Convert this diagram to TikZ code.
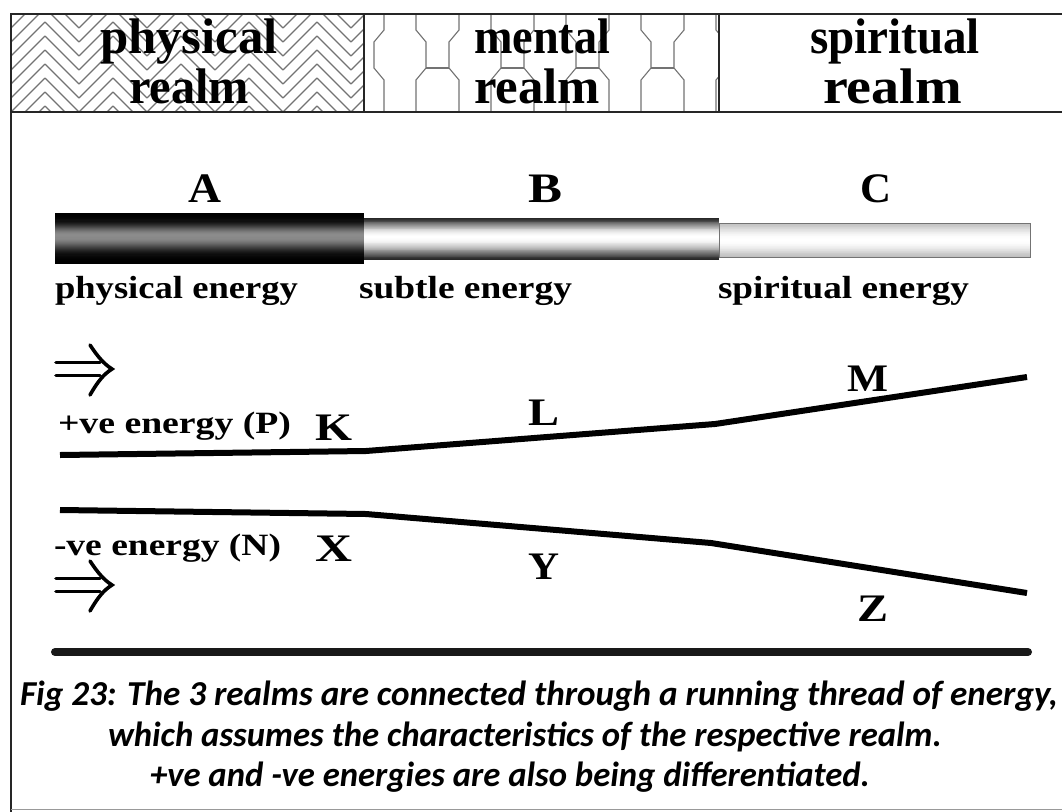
\documentclass[tikz,border=0pt]{standalone}
\usepackage{fontspec}
\usepackage{graphicx}
\setmainfont{Liberation Serif}
\newfontfamily\capfont{Carlito}
\newcommand\fitw[2]{\resizebox{#1}{\height}{#2}}
\newcommand\cylbar[8]{% x1,y1,x2,y2,edge,center,peak position (0..1),exponent
  \foreach \k in {0,...,47} {
    \pgfmathsetmacro\ta{#2+(#4-#2)*\k/48}
    \pgfmathsetmacro\tb{#2+(#4-#2)*(\k+1)/48+0.4}
    \pgfmathsetmacro\tt{(\k+0.5)/48}
    \pgfmathsetmacro\uu{\tt<#7 ? (#7-\tt)/#7 : (\tt-#7)/(1-#7)}
    \pgfmathsetmacro\ww{(1-\uu*\uu)^#8}
    \pgfmathsetmacro\cpc{#5+(#6-#5)*\ww}
    \fill[black!\cpc] (#1,\ta) rectangle (#3,\tb);
  }}
\tikzset{
  frameline/.style={draw=black!85, line width=2.2pt},
  patline/.style={draw=black!55, line width=1.1pt},
  txt/.style={anchor=base west, inner sep=0pt, outer sep=0pt},
  hdr/.style={txt, font=\fontsize{50}{50}\selectfont\bfseries},
  abc/.style={txt, font=\fontsize{42}{42}\selectfont\bfseries},
  lbl/.style={txt, font=\fontsize{32}{32}\selectfont\bfseries},
  pn/.style={txt, font=\fontsize{31}{31}\selectfont\bfseries},
  kly/.style={txt, font=\fontsize{39}{39}\selectfont\bfseries},
  captxt/.style={txt, font=\capfont\fontsize{35}{35}\selectfont\bfseries\itshape},
  thread/.style={draw=black, line width=6pt, line join=round},
  dblarr/.style={draw=black, line width=3.6pt, line cap=round},
}
\begin{document}
\begin{tikzpicture}[x=1pt, y=-1pt]
\useasboundingbox (0,0) rectangle (1062,811);
\fill[white] (0,0) rectangle (1062,811);
% herringbone pattern
\begin{scope}
  \clip (11,14) rectangle (364,112);
  \foreach \i in {0,...,10} {
    \pgfmathsetmacro\xa{11+34*\i}
    \pgfmathsetmacro\xb{45+34*\i}
    \foreach \yy in {0,14,...,168} {
      \ifodd\i
        \draw[patline] (\xa,\yy-34) -- (\xb,\yy);
      \else
        \draw[patline] (\xa,\yy) -- (\xb,\yy-34);
      \fi
    }
  }
\end{scope}
% mental pattern
\begin{scope}
  \clip (364,14) rectangle (719,112);
  \foreach \cx in {400,475,550,625,700} {
    \draw[patline] (\cx-16,14) -- (\cx-16,30) -- (\cx-26,42) -- (\cx-26,68) -- (\cx-16,80) -- (\cx-16,112);
    \draw[patline] (\cx+16,14) -- (\cx+16,30) -- (\cx+26,42) -- (\cx+26,68) -- (\cx+16,80) -- (\cx+16,112);
    \draw[patline] (\cx+26,68) -- (\cx+49,68);
  }
\end{scope}
% frame
\draw[frameline] (11,820) -- (11,14) -- (1075,14);
\draw[frameline, line width=1.6pt] (11,112) -- (1075,112);
\draw[frameline, line width=1.6pt] (364,14) -- (364,112);
\draw[frameline, line width=1.6pt] (719,14) -- (719,112);
\draw[black!40, line width=1pt] (11,809) -- (1075,809);
% header text
\node[hdr] (h1a) at (100,53) {\fitw{178pt}{physical}};
\node[hdr] (h1b) at (129,103) {\fitw{120pt}{realm}};
\node[hdr] (h2a) at (474,53) {\fitw{136pt}{mental}};
\node[hdr] (h2b) at (474,103) {\fitw{126pt}{realm}};
\node[hdr] (h3a) at (810,53) {\fitw{170pt}{spiritual}};
\node[hdr] (h3b) at (823,103) {\fitw{139pt}{realm}};
% energy bar
\cylbar{55}{213}{364}{264}{100}{45}{0.45}{4}
\cylbar{364}{218}{719}{260}{85}{0}{0.45}{1.5}
\cylbar{719}{223}{1030}{257}{25}{0}{0.5}{1.5}
\draw[black!55, line width=1pt] (719,223) rectangle (1030,257);
\node[abc] (A) at (188,202) {\fitw{33pt}{A}};
\node[abc] (B) at (528,202) {\fitw{34pt}{B}};
\node[abc] (C) at (860,202) {\fitw{31pt}{C}};
\node[lbl] (pe) at (55,298) {\fitw{243pt}{physical energy}};
\node[lbl] (se) at (359,298) {\fitw{213pt}{subtle energy}};
\node[lbl] (spe) at (718,298) {\fitw{251pt}{spiritual energy}};
% double arrows
\begin{scope}[shift={(0,369)}]
  \draw[dblarr] (56,-6.5) -- (100,-6.5);
  \draw[dblarr] (56,6.5) -- (100,6.5);
  \draw[dblarr] (90,-24) .. controls (98,-12) and (104,-5) .. (112,0) .. controls (104,5) and (98,12) .. (90,26);
\end{scope}
\begin{scope}[shift={(0,585)}]
  \draw[dblarr] (56,-6.5) -- (100,-6.5);
  \draw[dblarr] (56,6.5) -- (100,6.5);
  \draw[dblarr] (90,-24) .. controls (98,-12) and (104,-5) .. (112,0) .. controls (104,5) and (98,12) .. (90,26);
\end{scope}
% labels
\node[pn] (P) at (58,433) {\fitw{233pt}{+ve energy (P)}};
\node[pn] (N) at (54,555) {\fitw{227pt}{-ve energy (N)}};
\node[kly] (K) at (315,440) {\fitw{37pt}{K}};
\node[kly] (L) at (528,425) {\fitw{31pt}{L}};
\node[kly] (M) at (847,391) {\fitw{41pt}{M}};
\node[kly] (X) at (315,561) {\fitw{37pt}{X}};
\node[kly] (Y) at (528,579) {\fitw{31pt}{Y}};
\node[kly] (Z) at (857,621) {\fitw{31pt}{Z}};
% threads
\coordinate (p0) at (60,455);
\coordinate (p1) at (366,451);
\coordinate (p2) at (715,424);
\coordinate (p3) at (1027,377);
\coordinate (n0) at (60,510);
\coordinate (n1) at (366,514);
\coordinate (n2) at (711,543);
\coordinate (n3) at (1027,593);
\draw[thread] (p0) -- (p1) -- (p2) -- (p3);
\draw[thread] (n0) -- (n1) -- (n2) -- (n3);
\coordinate (b0) at (55,652);
\coordinate (b1) at (1028,652);
\draw[black!90, line width=8pt, line cap=round] (b0) -- (b1);
% caption
\node[captxt] (c1) at (20,705) {\fitw{1038pt}{Fig 23: The 3 realms are connected through a running thread of energy,}};
\node[captxt] (c2) at (108,746) {\fitw{834pt}{which assumes the characteristics of the respective realm.}};
\node[captxt] (c3) at (150,786) {\fitw{720pt}{+ve and -ve energies are also being differentiated.}};
\end{tikzpicture}
\end{document}
